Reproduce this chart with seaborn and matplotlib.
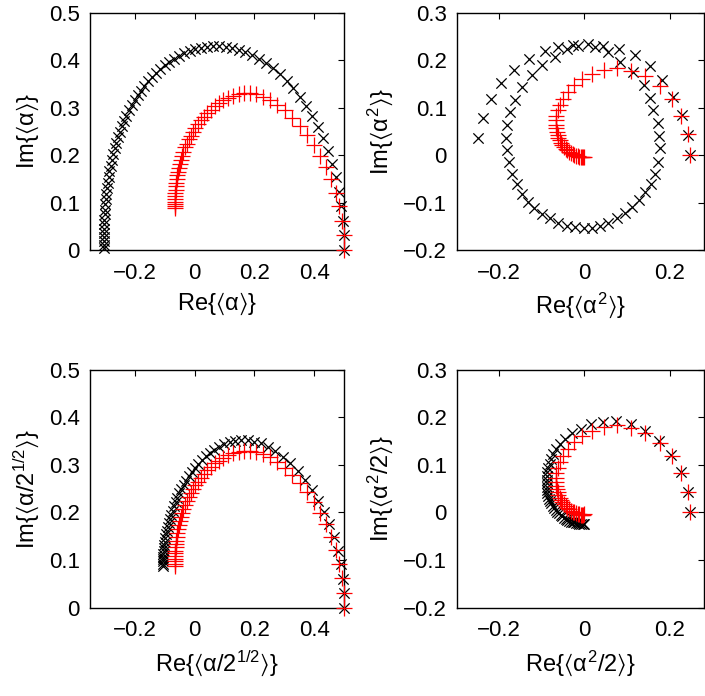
import matplotlib
matplotlib.use("Agg")
import matplotlib.pyplot as plt
import seaborn as sns

# --- data (black x = exact, red + = approximation) ---
# panel 1 : <alpha>
p1_black_re = [0.500, 0.499, 0.495, 0.490, 0.482, 0.472, 0.460, 0.446, 0.430, 0.412,
               0.393, 0.373, 0.352, 0.330, 0.308, 0.285, 0.262, 0.239, 0.216, 0.193,
               0.170, 0.148, 0.126, 0.104, 0.083, 0.062, 0.042, 0.022, 0.003, -0.016,
               -0.034, -0.051, -0.068, -0.084, -0.099, -0.114, -0.128, -0.142, -0.155, -0.167,
               -0.179, -0.190, -0.200, -0.210, -0.219, -0.228, -0.236, -0.243, -0.250, -0.256,
               -0.262, -0.267, -0.272, -0.276, -0.280, -0.284, -0.287, -0.290, -0.292, -0.294,
               -0.296, -0.298, -0.299, -0.300, -0.301, -0.302, -0.302, -0.303, -0.303, -0.303,
               -0.303, -0.303]
p1_black_im = [0.000, 0.031, 0.062, 0.093, 0.123, 0.153, 0.182, 0.209, 0.236, 0.260,
               0.283, 0.304, 0.323, 0.341, 0.356, 0.370, 0.383, 0.394, 0.403, 0.411,
               0.417, 0.422, 0.426, 0.428, 0.429, 0.429, 0.428, 0.426, 0.423, 0.419,
               0.414, 0.409, 0.403, 0.396, 0.389, 0.381, 0.373, 0.364, 0.355, 0.346,
               0.336, 0.326, 0.316, 0.305, 0.294, 0.283, 0.272, 0.261, 0.249, 0.238,
               0.226, 0.214, 0.202, 0.190, 0.178, 0.166, 0.154, 0.142, 0.130, 0.119,
               0.107, 0.096, 0.085, 0.075, 0.064, 0.054, 0.045, 0.036, 0.027, 0.019,
               0.011, 0.004]

# red curve is the same in panels 1 and 3
p1_red_re = [0.500, 0.498, 0.492, 0.483, 0.471, 0.456, 0.439, 0.419, 0.398, 0.375,
             0.351, 0.326, 0.301, 0.276, 0.252, 0.229, 0.207, 0.186, 0.166, 0.147,
             0.129, 0.112, 0.096, 0.081, 0.067, 0.054, 0.042, 0.031, 0.021, 0.011,
             0.002, -0.006, -0.013, -0.020, -0.026, -0.032, -0.037, -0.042, -0.046, -0.050,
             -0.053, -0.056, -0.058, -0.060, -0.061, -0.062, -0.063, -0.064, -0.064, -0.065,
             -0.065, -0.065, -0.065, -0.065]
p1_red_im = [0.000, 0.031, 0.062, 0.092, 0.121, 0.149, 0.175, 0.199, 0.222, 0.243,
             0.262, 0.279, 0.294, 0.306, 0.316, 0.323, 0.328, 0.330, 0.330, 0.328,
             0.325, 0.320, 0.315, 0.309, 0.303, 0.296, 0.289, 0.281, 0.273, 0.265,
             0.257, 0.249, 0.241, 0.233, 0.224, 0.216, 0.207, 0.199, 0.190, 0.182,
             0.173, 0.165, 0.157, 0.149, 0.141, 0.134, 0.127, 0.120, 0.114, 0.108,
             0.102, 0.097, 0.092, 0.088]

# panel 3 : <alpha/2^(1/2)>
p3_black_re = [0.500, 0.499, 0.495, 0.488, 0.478, 0.465, 0.450, 0.432, 0.412, 0.391,
               0.368, 0.344, 0.320, 0.295, 0.270, 0.246, 0.222, 0.199, 0.177, 0.156,
               0.136, 0.117, 0.099, 0.082, 0.066, 0.051, 0.037, 0.024, 0.012, 0.001,
               -0.009, -0.019, -0.028, -0.036, -0.044, -0.051, -0.057, -0.063, -0.068, -0.073,
               -0.078, -0.082, -0.086, -0.089, -0.092, -0.095, -0.097, -0.099, -0.101, -0.102,
               -0.103, -0.104, -0.105, -0.105, -0.106, -0.106, -0.106]
p3_black_im = [0.000, 0.030, 0.061, 0.091, 0.120, 0.148, 0.175, 0.201, 0.225, 0.248,
               0.268, 0.287, 0.303, 0.317, 0.329, 0.338, 0.345, 0.349, 0.352, 0.352,
               0.350, 0.347, 0.343, 0.338, 0.332, 0.325, 0.318, 0.310, 0.302, 0.294,
               0.285, 0.276, 0.267, 0.258, 0.249, 0.240, 0.231, 0.222, 0.213, 0.204,
               0.195, 0.187, 0.178, 0.170, 0.162, 0.154, 0.146, 0.139, 0.132, 0.125,
               0.119, 0.113, 0.107, 0.102, 0.097, 0.092, 0.088]

# panel 2 : <alpha^2>
p2_black_re = [0.247, 0.243, 0.229, 0.208, 0.182, 0.153, 0.118, 0.080, 0.044, 0.008,
               -0.027, -0.061, -0.093, -0.130, -0.165, -0.195, -0.220, -0.238, -0.249,
               0.139, 0.155, 0.162, 0.173, 0.176, 0.178, 0.173, 0.166, 0.157, 0.143,
               0.127, 0.111, 0.094, 0.076, 0.056, 0.037, 0.017, -0.002, -0.022, -0.042,
               -0.061, -0.081, -0.100, -0.118, -0.132, -0.147, -0.159, -0.169, -0.177, -0.183,
               -0.185, -0.183, -0.175, -0.163, -0.146, -0.124, -0.100, -0.069, -0.042, -0.015,
               0.025, 0.056, 0.084, 0.115]
p2_black_im = [0.000, 0.043, 0.084, 0.122, 0.159, 0.188, 0.210, 0.223, 0.230, 0.233,
               0.231, 0.227, 0.219, 0.202, 0.179, 0.152, 0.118, 0.079, 0.037,
               0.147, 0.121, 0.095, 0.067, 0.040, 0.014, -0.014, -0.039, -0.060, -0.077,
               -0.095, -0.110, -0.121, -0.133, -0.144, -0.150, -0.154, -0.154, -0.152, -0.150,
               -0.143, -0.133, -0.124, -0.112, -0.098, -0.081, -0.060, -0.039, -0.014, 0.011,
               0.035, 0.063, 0.091, 0.117, 0.143, 0.169, 0.190, 0.207, 0.223, 0.230,
               0.228, 0.218, 0.197, 0.176]

# red curve is the same in panels 2 and 4
p2_red_re = [0.247, 0.242, 0.227, 0.205, 0.178, 0.143, 0.110, 0.076, 0.046, 0.018,
             -0.005, -0.024, -0.039, -0.050, -0.058, -0.063, -0.066, -0.067, -0.067, -0.066,
             -0.065, -0.063, -0.061, -0.058, -0.055, -0.052, -0.048, -0.044, -0.040, -0.036,
             -0.032, -0.028, -0.024, -0.020, -0.016, -0.012, -0.009, -0.006, -0.003, 0.000]
p2_red_im = [0.000, 0.044, 0.083, 0.119, 0.146, 0.166, 0.178, 0.183, 0.179, 0.171,
             0.160, 0.147, 0.133, 0.119, 0.106, 0.094, 0.083, 0.073, 0.064, 0.056,
             0.049, 0.042, 0.036, 0.031, 0.026, 0.021, 0.017, 0.013, 0.010, 0.007,
             0.004, 0.002, 0.000, -0.002, -0.003, -0.004, -0.005, -0.005, -0.005, -0.004]

# panel 4 : <alpha^2/2>
p4_black_re = [0.247, 0.242, 0.227, 0.204, 0.176, 0.143, 0.110, 0.075, 0.043, 0.015,
               -0.009, -0.029, -0.045, -0.057, -0.066, -0.073, -0.078, -0.082, -0.085, -0.087,
               -0.088, -0.089, -0.089, -0.089, -0.088, -0.087, -0.085, -0.083, -0.081, -0.078,
               -0.075, -0.072, -0.068, -0.064, -0.060, -0.056, -0.052, -0.048, -0.044, -0.040,
               -0.036, -0.032, -0.028, -0.024, -0.020, -0.016, -0.012, -0.008, -0.004, 0.000]
p4_black_im = [0.000, 0.044, 0.084, 0.121, 0.150, 0.172, 0.186, 0.192, 0.191, 0.185,
               0.176, 0.166, 0.155, 0.144, 0.133, 0.122, 0.112, 0.102, 0.093, 0.084,
               0.076, 0.068, 0.061, 0.054, 0.047, 0.041, 0.035, 0.029, 0.024, 0.019,
               0.014, 0.010, 0.006, 0.002, -0.002, -0.005, -0.008, -0.011, -0.013, -0.015,
               -0.017, -0.019, -0.020, -0.021, -0.022, -0.023, -0.024, -0.024, -0.025, -0.025]

# axis ticks / labels
xticks_a = [-0.2, 0, 0.2, 0.4]
xticklabels_a = ["\u22120.2", "0", "0.2", "0.4"]
yticks_a = [0, 0.1, 0.2, 0.3, 0.4, 0.5]
yticklabels_a = ["0", "0.1", "0.2", "0.3", "0.4", "0.5"]
xticks_b = [-0.2, 0, 0.2]
xticklabels_b = ["\u22120.2", "0", "0.2"]
yticks_b = [-0.2, -0.1, 0, 0.1, 0.2, 0.3]
yticklabels_b = ["\u22120.2", "\u22120.1", "0", "0.1", "0.2", "0.3"]

sns.set_style("white")
plt.rcParams["font.family"] = ["Liberation Sans", "DejaVu Sans"]
plt.rcParams["mathtext.fontset"] = "custom"
plt.rcParams["mathtext.rm"] = "Liberation Sans"
plt.rcParams["mathtext.it"] = "Liberation Sans"
plt.rcParams["mathtext.fallback"] = "stixsans"
for key in ["text.color", "axes.labelcolor", "xtick.color", "ytick.color"]:
    plt.rcParams[key] = "black"

fig = plt.figure(figsize=(7.05, 6.96), dpi=100)
ax1 = fig.add_axes([0.1272, 0.6408, 0.3611, 0.3410])
ax2 = fig.add_axes([0.6478, 0.6408, 0.3504, 0.3410])
ax3 = fig.add_axes([0.1272, 0.1269, 0.3611, 0.3420])
ax4 = fig.add_axes([0.6478, 0.1269, 0.3504, 0.3420])

panels = [
    (ax1, p1_black_re, p1_black_im, p1_red_re, p1_red_im,
     (-0.35, 0.5), (0, 0.5), xticks_a, xticklabels_a, yticks_a, yticklabels_a,
     r"Re$\{\langle\alpha\rangle\}$", r"Im$\{\langle\alpha\rangle\}$"),
    (ax2, p2_black_re, p2_black_im, p2_red_re, p2_red_im,
     (-0.3, 0.28), (-0.2, 0.3), xticks_b, xticklabels_b, yticks_b, yticklabels_b,
     r"Re$\{\langle\alpha^2\rangle\}$", r"Im$\{\langle\alpha^2\rangle\}$"),
    (ax3, p3_black_re, p3_black_im, p1_red_re, p1_red_im,
     (-0.35, 0.5), (0, 0.5), xticks_a, xticklabels_a, yticks_a, yticklabels_a,
     r"Re$\{\langle\alpha/2^{1/2}\rangle\}$", r"Im$\{\langle\alpha/2^{1/2}\rangle\}$"),
    (ax4, p4_black_re, p4_black_im, p2_red_re, p2_red_im,
     (-0.3, 0.28), (-0.2, 0.3), xticks_b, xticklabels_b, yticks_b, yticklabels_b,
     r"Re$\{\langle\alpha^2/2\rangle\}$", r"Im$\{\langle\alpha^2/2\rangle\}$"),
]

for (ax, bre, bim, rre, rim, xl, yl, xt, xtl, yt, ytl, xlab, ylab) in panels:
    sns.scatterplot(x=bre, y=bim, marker="x", color="black", s=55,
                    linewidth=0.9, ax=ax, zorder=3, clip_on=False)
    sns.scatterplot(x=rre, y=rim, marker="+", color="red", s=120,
                    linewidth=0.9, ax=ax, zorder=4, clip_on=False)
    ax.set_xlim(*xl)
    ax.set_ylim(*yl)
    ax.set_xticks(xt)
    ax.set_xticklabels(xtl)
    ax.set_yticks(yt)
    ax.set_yticklabels(ytl)
    ax.tick_params(direction="in", length=4, width=0.8, labelsize=16,
                   top=True, right=True)
    ax.tick_params(axis="x", pad=9)
    ax.tick_params(axis="y", pad=7)
    for sp in ax.spines.values():
        sp.set_linewidth(1.0)
        sp.set_color("black")
    ax.set_xlabel(xlab, fontsize=17, labelpad=5)
    ax.set_ylabel(ylab, fontsize=17, labelpad=6)

fig.savefig("out.png", dpi=100)
